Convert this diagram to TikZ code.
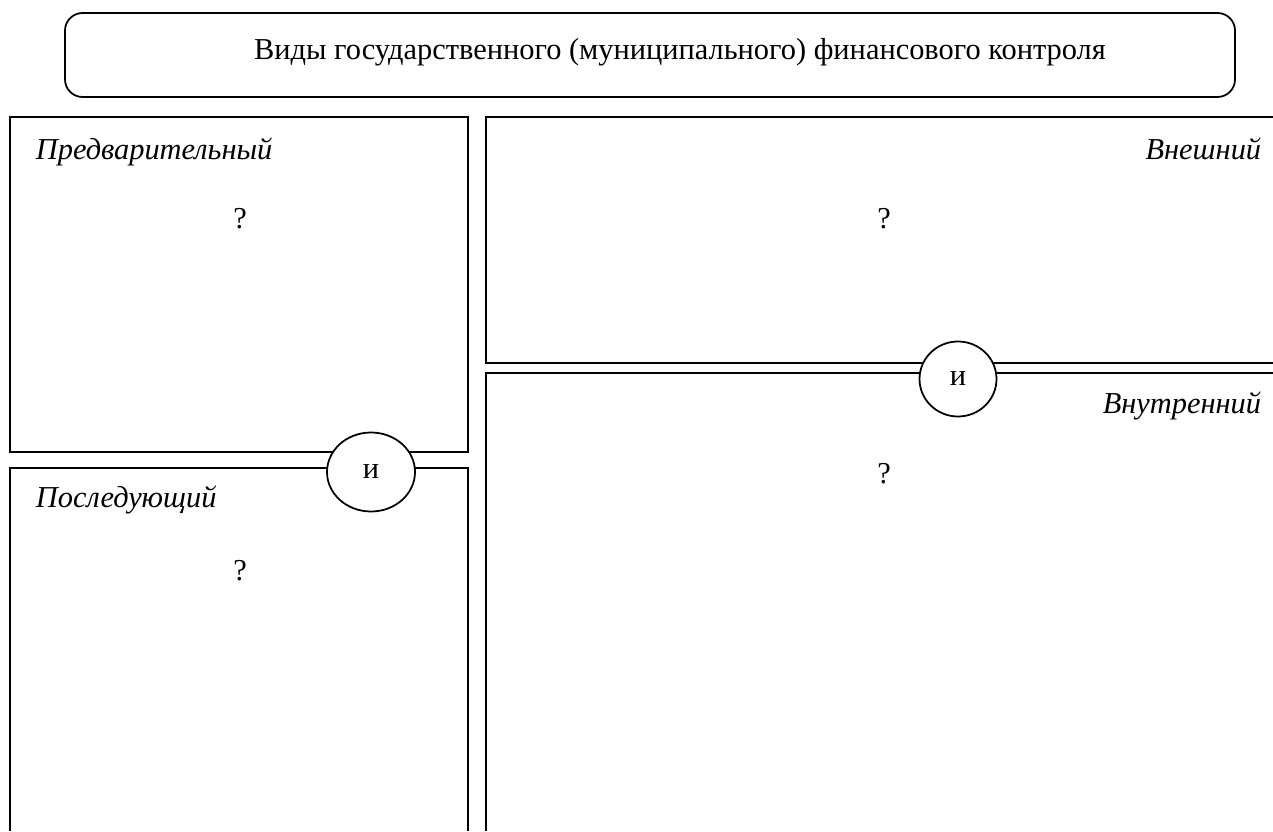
\documentclass[tikz,border=0pt]{standalone}
\usepackage{fontspec}
\setmainfont{Liberation Serif}
\usetikzlibrary{positioning,shapes.geometric}

\begin{document}
\begin{tikzpicture}[x=0.02cm,y=-0.02cm, line width=1pt, font=\fontsize{17.3}{20}\selectfont]

    \tikzstyle{kind}=[font=\fontsize{17.3}{20}\selectfont\itshape, inner sep=0pt]
    \tikzstyle{ask}=[inner sep=0pt, anchor=base]
    \tikzstyle{andnode}=[draw, ellipse, fill=white, inner sep=0pt]

    \useasboundingbox (0,0) rectangle (1273,831);

    % title
    \draw[rounded corners=10] (65,13) rectangle (1235,97);
    \node[inner sep=0pt, anchor=base] (title) at (680,60) {Виды государственного (муниципального) финансового контроля};

    % left boxes
    \draw (10,117) rectangle (468,452);
    \draw (10,831) -- (10,468) -- (468,468) -- (468,831);
    % right boxes
    \draw (1273,117) -- (486,117) -- (486,363) -- (1273,363);
    \draw (1273,373) -- (486,373) -- (486,831);

    \node[kind, anchor=base west] (pre)  at (35,160)  {Предварительный};
    \node[ask]                    (q1)   at (240,228) {?};
    \node[kind, anchor=base west] (post) at (35,507)  {Последующий};
    \node[ask]                    (q2)   at (240,580) {?};
    \node[kind, anchor=base east] (ext)  at (1262,160) {Внешний};
    \node[ask]                    (q3)   at (884,228) {?};
    \node[kind, anchor=base east] (int)  at (1262,413) {Внутренний};
    \node[ask]                    (q4)   at (884,483) {?};

    \node[andnode, minimum width=88*0.02cm, minimum height=79*0.02cm] (and1) at (371,472) {и};
    \node[andnode, minimum width=77*0.02cm, minimum height=75*0.02cm] (and2) at (958,379) {и};
\end{tikzpicture}
\end{document}
